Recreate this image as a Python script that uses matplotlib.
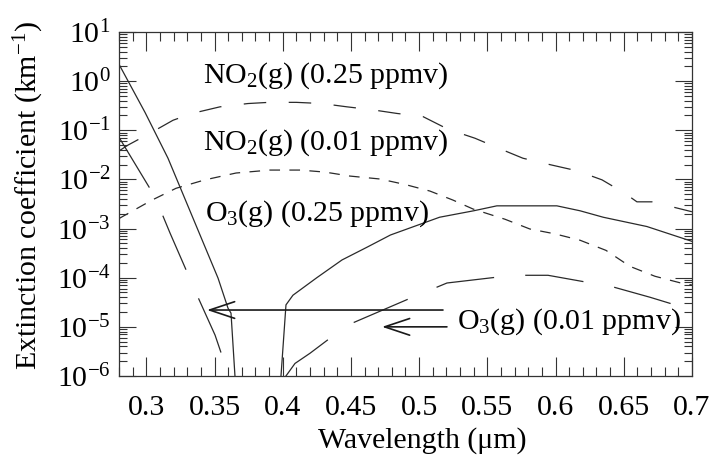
import numpy as np
import matplotlib
matplotlib.use("Agg")
import matplotlib.pyplot as plt
import matplotlib.ticker as mt

plt.rcParams["font.family"] = ["Liberation Serif", "DejaVu Serif"]
plt.rcParams["mathtext.fontset"] = "custom"
plt.rcParams["mathtext.rm"] = "Liberation Serif"
plt.rcParams["mathtext.it"] = "Liberation Serif:italic"

# O3(g) 0.25 ppmv, Hartley band (left) and Chappuis band (right)
o3_hi_left_x = [0.28, 0.2991, 0.3159, 0.3379, 0.3526, 0.3599, 0.3621, 0.3650, 0.3658]
o3_hi_left_y = [2.2, 0.23, 0.027, 9.3e-4, 9.8e-5, 2.4e-5, 1.9e-5, 1.0e-6, 8e-7]
o3_hi_right_x = [0.3985, 0.4024, 0.4075, 0.425, 0.4435, 0.462, 0.479, 0.515,
                 0.540, 0.557, 0.601, 0.618, 0.635, 0.667, 0.70]
o3_hi_right_y = [8e-7, 2.8e-5, 4.4e-5, 1.0e-4, 2.3e-4, 4.2e-4, 7.4e-4, 1.7e-3,
                 2.3e-3, 2.9e-3, 2.9e-3, 2.3e-3, 1.7e-3, 1.1e-3, 5.5e-4]

# O3(g) 0.01 ppmv
o3_lo_left_x = [0.28, 0.3064, 0.3174, 0.3379, 0.3504, 0.3606, 0.3615]
o3_lo_left_y = [0.072, 4.4e-3, 8.1e-4, 4.0e-5, 6.8e-6, 1.0e-6, 8e-7]
o3_lo_right_x = [0.4012, 0.409, 0.420, 0.4471, 0.4933, 0.5204, 0.5688, 0.5945,
                 0.6421, 0.6693, 0.70]
o3_lo_right_y = [9e-7, 1.8e-6, 2.9e-6, 1.07e-5, 3.8e-5, 7.8e-5, 1.12e-4, 1.12e-4,
                 6.5e-5, 4.0e-5, 2.2e-5]

# NO2(g) 0.25 ppmv
no2_hi_x = [0.28, 0.2866, 0.3027, 0.3196, 0.3335, 0.354, 0.3745, 0.39, 0.41,
            0.4288, 0.4471, 0.4662, 0.4838, 0.5028, 0.5212, 0.5409, 0.5593,
            0.5761, 0.5959, 0.6157, 0.6341, 0.6509, 0.6597, 0.6707, 0.70]
no2_hi_y = [0.038, 0.050, 0.087, 0.16, 0.22, 0.30, 0.35, 0.37, 0.37,
            0.35, 0.30, 0.26, 0.22, 0.19, 0.105, 0.069, 0.042,
            0.027, 0.020, 0.015, 9.8e-3, 5.2e-3, 3.5e-3, 3.5e-3, 2.2e-3]

# NO2(g) 0.01 ppmv
no2_lo_x = [0.28, 0.3042, 0.3218, 0.343, 0.3658, 0.3907, 0.4127, 0.431, 0.4493,
            0.4713, 0.4896, 0.5079, 0.5248, 0.5395, 0.5629, 0.5812, 0.5996,
            0.6179, 0.637, 0.6546, 0.6729, 0.6919, 0.70]
no2_lo_y = [1.6e-3, 3.8e-3, 6.6e-3, 9.8e-3, 0.0135, 0.0155, 0.0155, 0.0141, 0.0117,
            0.0102, 7.9e-3, 5.8e-3, 3.8e-3, 2.5e-3, 1.55e-3, 9.8e-4, 7.8e-4,
            5.8e-4, 3.6e-4, 1.7e-4, 1.07e-4, 7.8e-5, 7.1e-5]

labels = ["NO$_2$(g) (0.25 ppmv)", "NO$_2$(g) (0.01 ppmv)",
          "O$_3$(g) (0.25 ppmv)", "O$_3$(g) (0.01 ppmv)"]
label_xy = [(0.3416, 0.91), (0.3416, 0.0395), (0.343, 1.48e-3), (0.5277, 9.3e-6)]

# arrows: (tail x, tip x, y)
arrows = [(0.5175, 0.3445, 2.2e-5), (0.5204, 0.4728, 1.0e-5)]

fs = 21.5
line_color = "#2a2a2a"

fig = plt.figure(figsize=(7.17, 4.61), dpi=100)
ax = fig.add_axes([0.166, 0.1844, 0.799, 0.7462])

ax.plot(o3_hi_left_x, o3_hi_left_y, color=line_color, lw=0.9)
ax.plot(o3_hi_right_x, o3_hi_right_y, color=line_color, lw=0.9)
ax.plot(o3_lo_left_x, o3_lo_left_y, color=line_color, lw=0.9, dashes=(47, 25))
ax.plot(o3_lo_right_x, o3_lo_right_y, color=line_color, lw=0.9, dashes=(47, 25))
ax.plot(no2_hi_x, no2_hi_y, color=line_color, lw=0.9, dashes=(18, 18))
ax.plot(no2_lo_x, no2_lo_y, color=line_color, lw=0.9, dashes=(8.5, 7.5))

for (x0, x1, y) in arrows:
    ax.annotate("", xy=(x1, y), xytext=(x0, y),
                arrowprops=dict(arrowstyle="->,head_length=1.5,head_width=0.5",
                                color="#1a1a1a", lw=1.2, shrinkA=0, shrinkB=0,
                                mutation_scale=12))

for text, (x, y) in zip(labels, label_xy):
    ax.text(x, y, text, fontsize=fs, va="baseline", ha="left")

ax.set_yscale("log")
ax.set_xlim(0.28, 0.70)
ax.set_ylim(1e-6, 1e1)

ax.xaxis.set_major_locator(mt.MultipleLocator(0.05))
ax.xaxis.set_minor_locator(mt.MultipleLocator(0.01))
ax.xaxis.set_major_formatter(mt.FuncFormatter(lambda v, p: ("%.2f" % v).rstrip("0")))
ax.yaxis.set_major_locator(mt.LogLocator(base=10, numticks=20))
ax.yaxis.set_minor_locator(mt.LogLocator(base=10, subs=np.arange(2, 10), numticks=20))
ax.yaxis.set_minor_formatter(mt.NullFormatter())

ax.tick_params(which="both", direction="in", top=True, right=True, labelsize=fs,
               width=0.8, color="#333333")
ax.tick_params(axis="x", which="major", length=13.5, pad=13.5)
ax.tick_params(axis="x", which="minor", length=6.5)
ax.tick_params(axis="y", which="major", length=12.5, pad=6)
ax.tick_params(axis="y", which="minor", length=6)
for s in ax.spines.values():
    s.set_linewidth(0.9)
    s.set_color("#333333")

ax.set_xlabel("Wavelength (\u03bcm)", fontsize=fs)
ax.xaxis.set_label_coords(0.529, -0.148)
fig.text(29 / 717, 1 - 195 / 461, "Extinction coefficient (km$^{-1}$)",
         fontsize=fs, rotation=90, ha="center", va="center")

fig.savefig("out.png", dpi=100)
